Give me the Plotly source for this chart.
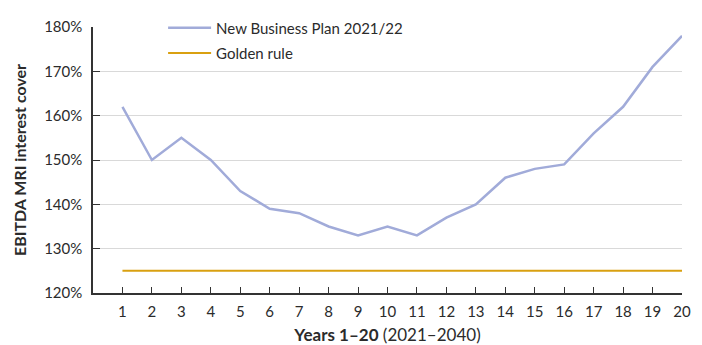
import plotly.graph_objects as go

# Years of the plan and EBITDA MRI interest cover (%)
years = list(range(1, 21))
business_plan = [162, 150, 155, 150, 143, 139, 138, 135, 133, 135,
                 133, 137, 140, 146, 148, 149, 156, 162, 171, 178]
golden_rule = [125] * 20
y_ticks = [120, 130, 140, 150, 160, 170, 180]

FONT = "Lato"
TXT = "#2b2b2b"

fig = go.Figure()
fig.add_trace(go.Scatter(
    x=years, y=business_plan, mode="lines", name="New Business Plan 2021/22",
    line=dict(color="#a1abd9", width=2.5), legend="legend",
))
fig.add_trace(go.Scatter(
    x=years, y=golden_rule, mode="lines", name="Golden rule",
    line=dict(color="#d9a010", width=2), legend="legend2",
))

# white panel behind the legend that hides the gridlines there
fig.add_shape(
    type="rect", xref="x", yref="paper",
    x0=1.78, x1=10.95, y0=0.81, y1=1.05,
    fillcolor="white", line=dict(width=0), layer="between",
)

legend_style = dict(
    xanchor="left", yanchor="middle", bgcolor="rgba(255,255,255,0)",
    font=dict(size=15, color=TXT), itemwidth=43,
)

fig.update_layout(
    width=702, height=345,
    margin=dict(l=93, r=20, t=20, b=52),
    plot_bgcolor="white", paper_bgcolor="white",
    font=dict(family=FONT, size=15, color=TXT),
    showlegend=True,
    legend=dict(x=0.119, y=0.996, **legend_style),
    legend2=dict(x=0.119, y=0.901, **legend_style),
    xaxis=dict(
        range=[0, 20], tickmode="array", tickvals=years,
        ticktext=[str(v) for v in years],
        ticks="inside", ticklen=6, tickcolor="#333", tickwidth=1,
        showline=True, linecolor="#333", linewidth=1.5,
        showgrid=False, zeroline=False, automargin=False,
        tickfont=dict(size=15, color=TXT), ticklabelstandoff=4,
        title=dict(
            text="<b>Years 1–20</b> (2021–2040)",
            font=dict(size=17, color=TXT), standoff=15,
        ),
    ),
    yaxis=dict(
        range=[120, 180], tickmode="array", tickvals=y_ticks,
        ticktext=[f"{v}%" for v in y_ticks],
        ticks="inside", ticklen=7, tickcolor="#333", tickwidth=1,
        showline=True, linecolor="#333", linewidth=1.5,
        showgrid=True, gridcolor="#d9d9d9", gridwidth=1,
        zeroline=False, automargin=False,
        tickfont=dict(size=15, color=TXT), ticklabelstandoff=6,
        title=dict(
            text="<b>EBITDA MRI interest cover</b>",
            font=dict(size=16, color=TXT), standoff=14,
        ),
    ),
)

fig.write_html("out.html")
